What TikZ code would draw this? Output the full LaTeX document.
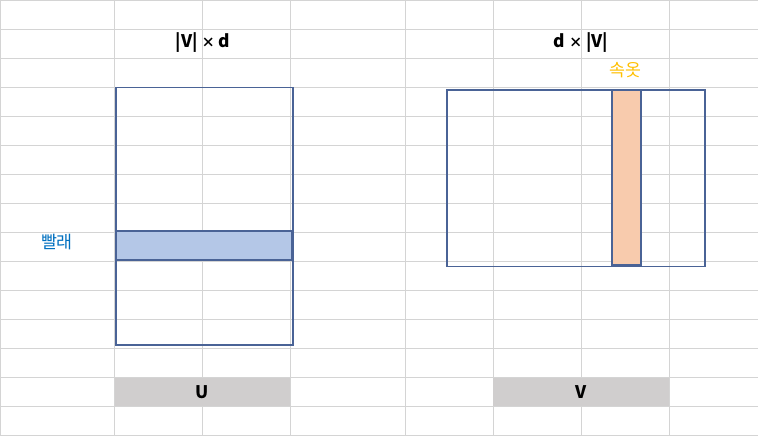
\documentclass[tikz,border=0pt]{standalone}
\usepackage{fontspec}
\setmainfont{Noto Sans CJK KR}
\definecolor{gridc}{HTML}{D4D4D4}
\definecolor{boxc}{HTML}{4A6396}
\definecolor{rowfill}{HTML}{B4C7E7}
\definecolor{colfill}{HTML}{F8CBAD}
\definecolor{grayfill}{HTML}{D0CECE}
\definecolor{gold}{HTML}{FFC000}
\definecolor{blue2}{HTML}{0070C0}
\newcommand{\smtimes}{{\fontsize{10}{12}\selectfont ×}}
\begin{document}
\begin{tikzpicture}[x=0.75pt,y=-0.75pt,
  gridline/.style={draw=gridc,line width=0.75pt},
  matbox/.style={draw=boxc,line width=1.3pt},
  grayhdr/.style={fill=grayfill},
  title/.style={font=\fontsize{13}{15}\selectfont\bfseries,text=black},
  klabel/.style={font=\fontsize{13}{15}\selectfont}]
\useasboundingbox (0,0) rectangle (758,436);
\fill[white] (0,0) rectangle (758,436);
% grid
\foreach \x in {0.5,114.5,202,290,405,493,581,669}
  \draw[gridline] (\x,0) -- (\x,436);
\foreach \i in {0,...,15}
  \draw[gridline] (0,{0.5+29*\i}) -- (758,{0.5+29*\i});
% gray header cells
\fill[grayhdr] (114.5,378) rectangle (290,406);
\fill[grayhdr] (493,378) rectangle (669,406);
% U matrix
\draw[matbox] (115.7,87.5) rectangle (293,344.7);
\draw[matbox,fill=rowfill] (115.7,231) rectangle (291.5,260);
% V matrix
\draw[matbox] (447,89.7) rectangle (705,266.5);
\draw[matbox,fill=colfill] (612,89.7) rectangle (641,265);
% texts
\node[title] (tU) at (203,43) {|V| \smtimes{} d};
\node[title] (tV) at (581,43) {d \smtimes{} |V|};
\node[klabel,text=gold] (sok) at (625,70) {속옷};
\node[klabel,text=blue2] (ppal) at (57,242) {빨래};
\node[title] (lU) at (202,392) {U};
\node[title] (lV) at (581,392) {V};
\end{tikzpicture}
\end{document}
